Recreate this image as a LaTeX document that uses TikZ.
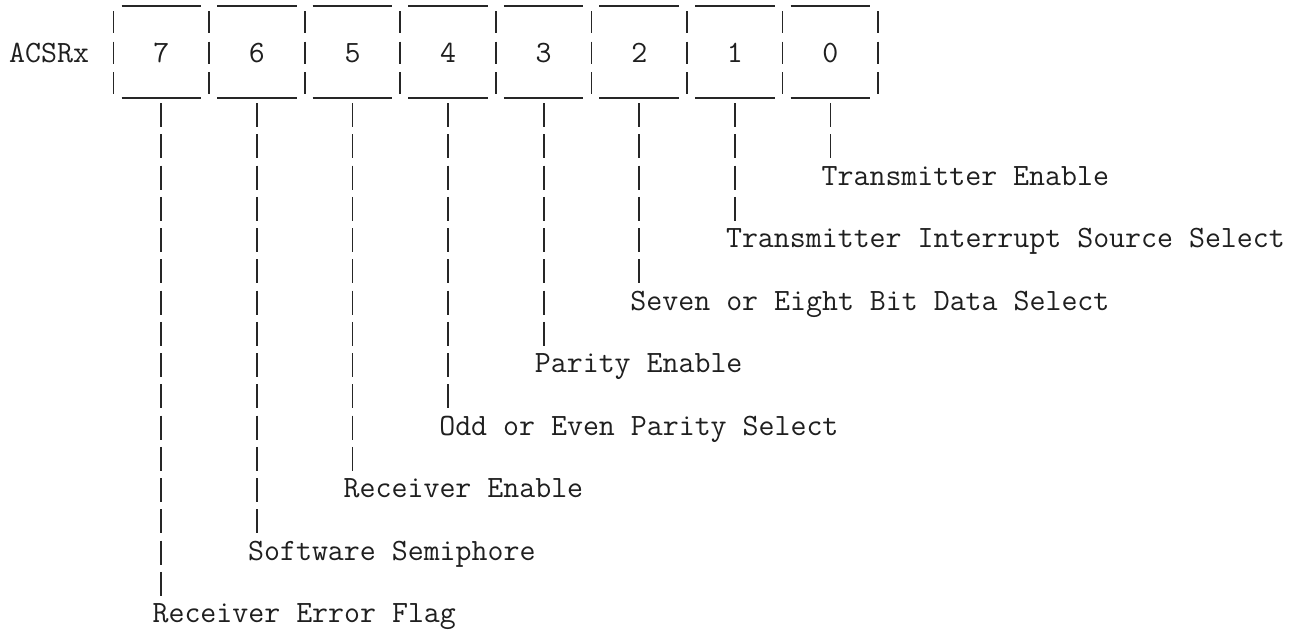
\documentclass[tikz,border=0pt]{standalone}
\usepackage{fontspec}
\begin{document}
\begin{tikzpicture}[x=1pt,y=-1pt,
  rule/.style={draw=black!85, line width=1.7pt},
  boxpipe/.style={draw=black!85, line width=1.7pt, dash pattern=on 22pt off 8.5pt},
  leader/.style={draw=black!85, line width=1.7pt, dash pattern=on 24pt off 7.25pt},
  txt/.style={inner sep=0pt, font=\ttfamily\fontsize{31}{35}\selectfont, text=black!88}]
\useasboundingbox (0,0) rectangle (1295,630);
\fill[white] (0,0) rectangle (1295,630);
% register name
\node[txt, anchor=base west] (reg) at (9,62) {ACSRx};
% box separators
\foreach \j in {0,...,8} {
  \pgfmathsetmacro\px{10+15.93*(6.5+6*\j)}
  \coordinate (pt\j) at (\px,11);
  \coordinate (pb\j) at (\px,94);
  \draw[boxpipe] (pt\j) -- (pb\j);
}
% top and bottom rules of each cell
\foreach \j in {0,...,7} {
  \pgfmathsetmacro\xa{10+15.93*(6.5+6*\j)+8}
  \pgfmathsetmacro\xb{10+15.93*(6.5+6*(\j+1))-8}
  \coordinate (ta\j) at (\xa,6);  \coordinate (tb\j) at (\xb,6);
  \coordinate (ba\j) at (\xa,98); \coordinate (bb\j) at (\xb,98);
  \draw[rule] (ta\j) -- (tb\j);
  \draw[rule] (ba\j) -- (bb\j);
}
% bits, leaders and labels
\foreach \b/\lab in {0/Transmitter Enable,
                     1/Transmitter Interrupt Source Select,
                     2/Seven or Eight Bit Data Select,
                     3/Parity Enable,
                     4/Odd or Even Parity Select,
                     5/Receiver Enable,
                     6/Software Semiphore,
                     7/Receiver Error Flag} {
  \pgfmathsetmacro\col{9+6*(7-\b)}
  \pgfmathsetmacro\cx{10+15.93*(\col+0.5)}
  \pgfmathsetmacro\lx{9+15.93*\col}
  \pgfmathsetmacro\by{185+62.5*\b}
  \pgfmathsetmacro\ey{158.25+62.5*\b}
  \node[txt, anchor=base] (d\b) at (\cx,62) {\b};
  \coordinate (s\b) at (\cx,103);
  \coordinate (e\b) at (\cx,\ey);
  \draw[leader] (s\b) -- (e\b);
  \node[txt, anchor=base west] (n\b) at (\lx,\by) {\lab};
}
\end{tikzpicture}
\end{document}
